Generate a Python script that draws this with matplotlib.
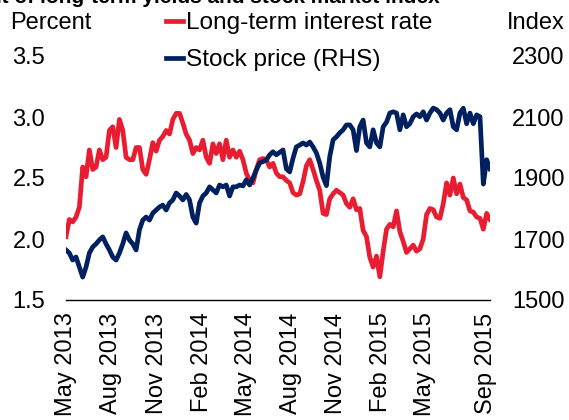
import matplotlib
matplotlib.use("Agg")
import matplotlib.pyplot as plt
import matplotlib.dates as mdates
import pandas as pd

plt.rcParams['font.family'] = ['Liberation Sans', 'DejaVu Sans']

# roughly weekly readings, May 2013 - Sep 2015
rate = [2.02, 2.16, 2.14, 2.18, 2.26, 2.59, 2.51, 2.73, 2.57, 2.59,
        2.73, 2.65, 2.67, 2.89, 2.92, 2.75, 2.98, 2.89, 2.67, 2.65,
        2.65, 2.75, 2.75, 2.57, 2.53, 2.65, 2.79, 2.72, 2.81, 2.84,
        2.89, 2.86, 2.98, 3.03, 3.03, 2.95, 2.86, 2.81, 2.70, 2.75,
        2.73, 2.81, 2.67, 2.62, 2.78, 2.70, 2.78, 2.65, 2.81, 2.67,
        2.73, 2.67, 2.72, 2.65, 2.54, 2.48, 2.46, 2.57, 2.65, 2.66,
        2.65, 2.59, 2.62, 2.54, 2.51, 2.51, 2.48, 2.46, 2.38, 2.36,
        2.37, 2.47, 2.60, 2.65, 2.57, 2.48, 2.40, 2.21, 2.20, 2.33,
        2.37, 2.40, 2.38, 2.36, 2.29, 2.26, 2.33, 2.24, 2.25, 2.07,
        2.02, 1.85, 1.77, 1.86, 1.69, 1.90, 2.08, 2.12, 2.10, 2.23,
        2.06, 1.98, 1.89, 1.92, 1.95, 1.90, 1.92, 2.00, 2.20, 2.25,
        2.24, 2.18, 2.17, 2.29, 2.46, 2.36, 2.50, 2.37, 2.45, 2.34,
        2.32, 2.23, 2.22, 2.18, 2.17, 2.08, 2.21, 2.16]

stock = [1664, 1654, 1631, 1641, 1608, 1575, 1608, 1654, 1674, 1684,
         1697, 1707, 1684, 1664, 1641, 1631, 1654, 1684, 1720, 1697,
         1684, 1664, 1730, 1762, 1772, 1762, 1785, 1795, 1805, 1811,
         1795, 1818, 1828, 1851, 1841, 1828, 1846, 1828, 1772, 1752,
         1818, 1841, 1851, 1871, 1861, 1851, 1877, 1871, 1877, 1841,
         1871, 1871, 1877, 1874, 1894, 1877, 1900, 1926, 1949, 1954,
         1959, 1976, 1986, 1976, 1984, 1992, 1930, 1920, 1965, 2002,
         2008, 2015, 2008, 2018, 2002, 1982, 1949, 1903, 1875, 1970,
         2025, 2035, 2048, 2058, 2074, 2074, 2058, 1990, 2068, 2090,
         2015, 2002, 2058, 2015, 2002, 2068, 2083, 2113, 2117, 2113,
         2058, 2107, 2068, 2078, 2101, 2110, 2101, 2117, 2090, 2113,
         2129, 2124, 2113, 2090, 2113, 2124, 2068, 2058, 2113, 2129,
         2078, 2113, 2078, 2107, 2101, 1880, 1960, 1930]

start, end = '2013-05-01', '2015-09-10'
rate_dates = pd.date_range(start, end, periods=len(rate))
stock_dates = pd.date_range(start, end, periods=len(stock))

tick_dates = pd.to_datetime(['2013-05-01', '2013-08-01', '2013-11-01', '2014-02-01',
                             '2014-05-01', '2014-08-01', '2014-11-01', '2015-02-01',
                             '2015-05-01', '2015-09-01'])

red = '#E91D32'
navy = '#002060'
fs = 17

fig = plt.figure(figsize=(5.69, 4.2), dpi=100)
ax = fig.add_axes([66 / 569, 1 - 300 / 420, 424 / 569, 244 / 420])
ax2 = ax.twinx()

l1, = ax.plot(rate_dates, rate, color=red, lw=3.4, label='Long-term interest rate')
l2, = ax2.plot(stock_dates, stock, color=navy, lw=3.4, label='Stock price (RHS)')

ax.set_xlim(pd.Timestamp(start), pd.Timestamp(end))
ax.set_ylim(1.5, 3.5)
ax.set_yticks([1.5, 2.0, 2.5, 3.0, 3.5])
ax.yaxis.set_major_formatter(plt.FormatStrFormatter('%.1f'))
ax2.set_ylim(1500, 2300)
ax2.set_yticks([1500, 1700, 1900, 2100, 2300])

ax.set_xticks(tick_dates)
ax.xaxis.set_major_formatter(mdates.DateFormatter('%b %Y'))
plt.setp(ax.get_xticklabels(), rotation=90, ha='center', va='top')

for a in (ax, ax2):
    for s in a.spines.values():
        s.set_visible(False)
    a.tick_params(length=0, labelsize=fs, colors='black')
ax.spines['bottom'].set_visible(True)
ax.spines['bottom'].set_linewidth(1.0)
ax.tick_params(axis='x', pad=9)
ax.tick_params(axis='y', pad=15)
ax2.tick_params(axis='y', pad=16)

fig.text(10 / 569, 1 - 23 / 420, 'Percent', fontsize=fs, va='center', ha='left')
fig.text(565 / 569, 1 - 23 / 420, 'Index', fontsize=fs, va='center', ha='right')
fig.text(440 / 569, 1 - 3 / 420, 'Development of long-term yields and stock market index',
         fontsize=15, fontweight='bold', ha='right', va='baseline')

leg = ax2.legend(handles=[l1, l2], loc='upper left', bbox_to_anchor=(166 / 569, 1 - 12 / 420),
                 bbox_transform=fig.transFigure, frameon=False, fontsize=17.6,
                 handlelength=0.7, handletextpad=0.1, labelspacing=0.62,
                 borderpad=0, borderaxespad=0)

fig.savefig('out.png', dpi=100)
